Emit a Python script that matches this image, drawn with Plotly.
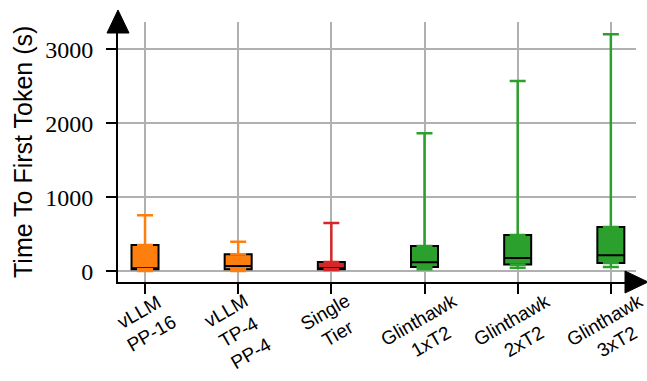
import plotly.graph_objects as go

categories = ["vLLM<br>PP-16", "vLLM<br>TP-4<br>PP-4", "Single<br>Tier",
              "Glinthawk<br>1xT2", "Glinthawk<br>2xT2", "Glinthawk<br>3xT2"]
whisker_low = [5, 5, 17, 27, 46, 59]
q1 = [27, 27, 27, 59, 90, 113]
median = [40, 72, 40, 122, 181, 216]
q3 = [355, 230, 125, 343, 492, 600]
whisker_high = [757, 400, 654, 1865, 2572, 3203]
colors = ["#ff7f0e", "#ff7f0e", "#d62728", "#2ca02c", "#2ca02c", "#2ca02c"]
y_ticks = [0, 1000, 2000, 3000]
y_title = "Time To First Token (s)"

fig = go.Figure()

for i, cat in enumerate(categories):
    # upper whisker
    fig.add_trace(go.Scatter(
        x=[cat], y=[q3[i]], mode="markers",
        marker=dict(size=1, opacity=0),
        error_y=dict(type="data", symmetric=False,
                     array=[whisker_high[i] - q3[i]], arrayminus=[0],
                     color=colors[i], thickness=2.5, width=8),
        showlegend=False, hoverinfo="skip"))
    # lower whisker
    fig.add_trace(go.Scatter(
        x=[cat], y=[q1[i]], mode="markers",
        marker=dict(size=1, opacity=0),
        error_y=dict(type="data", symmetric=False,
                     array=[0], arrayminus=[q1[i] - whisker_low[i]],
                     color=colors[i], thickness=2.5, width=8),
        showlegend=False, hoverinfo="skip"))
    # box
    fig.add_trace(go.Box(
        x=[cat], q1=[q1[i]], median=[median[i]], q3=[q3[i]],
        lowerfence=[q1[i]], upperfence=[q3[i]],
        fillcolor=colors[i], line=dict(color="black", width=2),
        whiskerwidth=0, width=0.29, showlegend=False, boxpoints=False,
        hoverinfo="skip"))

# rotated category labels
for cat in categories:
    fig.add_annotation(
        x=cat, xref="x", y=0, yref="paper", text=cat, showarrow=False,
        textangle=-30, xanchor="center", yanchor="top", yshift=-5,
        align="center",
        font=dict(family="Liberation Sans", size=19, color="black"))

# y title
fig.add_annotation(
    x=0, xref="paper", y=0.5, yref="paper", text=y_title, showarrow=False,
    textangle=-90, xanchor="center", yanchor="middle", xshift=-95,
    font=dict(family="Liberation Sans", size=25, color="black"))

# axis arrows
fig.add_shape(type="path", xref="paper", yref="paper",
              xsizemode="pixel", ysizemode="pixel", xanchor=0, yanchor=1,
              path="M -11,-11 L 11,-11 L 0,12 Z",
              fillcolor="black", line=dict(color="black", width=1), layer="above")
fig.add_shape(type="path", xref="paper", yref="paper",
              xsizemode="pixel", ysizemode="pixel", xanchor=1, yanchor=0,
              path="M -11,-11 L -11,11 L 12,0 Z",
              fillcolor="black", line=dict(color="black", width=1), layer="above")

fig.update_layout(
    width=647, height=381,
    margin=dict(l=118, r=11, t=22, b=99),
    paper_bgcolor="white", plot_bgcolor="white",
    boxmode="overlay",
    font=dict(family="Liberation Serif"),
    xaxis=dict(
        type="category", range=[-0.29, 5.27],
        showline=True, linecolor="black", linewidth=2,
        ticks="outside", ticklen=10, tickwidth=2, tickcolor="black",
        showticklabels=False,
        showgrid=True, gridcolor="#b0b0b0", gridwidth=1.5,
        zeroline=False),
    yaxis=dict(
        range=[-145, 3370],
        tickvals=y_ticks, ticktext=[str(v) for v in y_ticks],
        showline=True, linecolor="black", linewidth=2,
        ticks="outside", ticklen=10, tickwidth=2, tickcolor="black",
        ticklabelstandoff=8,
        tickfont=dict(family="Liberation Serif, serif", size=24, color="black"),
        showgrid=True, gridcolor="#b0b0b0", gridwidth=1.5,
        zeroline=False),
)

fig.write_html("out.html")
